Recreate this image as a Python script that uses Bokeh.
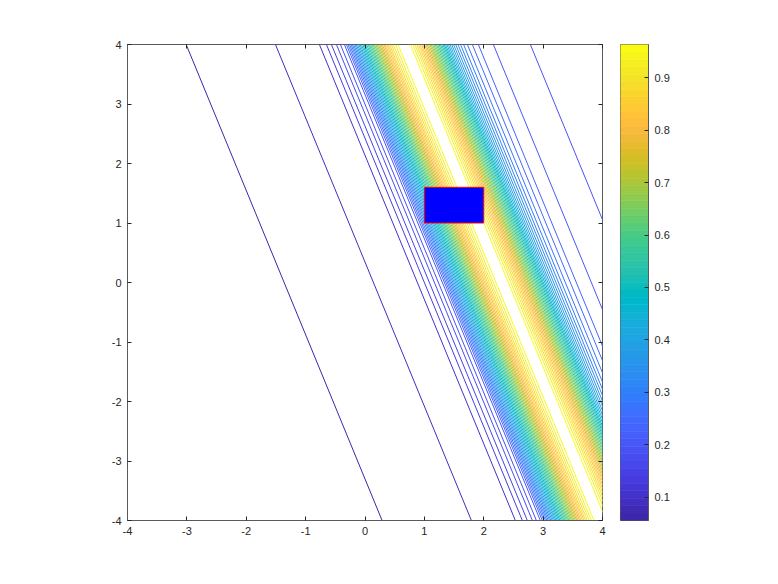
import numpy as np
from bokeh.plotting import figure
from bokeh.models import FixedTicker, LinearAxis, Range1d, ColumnDataSource
from bokeh.layouts import row
from bokeh.embed import file_html
from bokeh.resources import INLINE

# ---------------- data ----------------
# contour levels (evenly spaced)
levels = [0.07, 0.09, 0.11, 0.13, 0.15, 0.17, 0.19, 0.21, 0.23, 0.25, 0.27,
          0.29, 0.31, 0.33, 0.35, 0.37, 0.39, 0.41, 0.43, 0.45, 0.47, 0.49,
          0.51, 0.53, 0.55, 0.57, 0.59, 0.61, 0.63, 0.65, 0.67, 0.69, 0.71,
          0.73, 0.75, 0.77, 0.79, 0.81, 0.83, 0.85, 0.87, 0.89, 0.91, 0.93,
          0.95]
# x where each contour line on the left flank of the ridge meets y = 4
left_x_top = [-3.012, -1.508, -0.768, -0.650, -0.566, -0.481, -0.414, -0.347,
              -0.313, -0.286, -0.261, -0.237, -0.214, -0.192, -0.170, -0.148,
              -0.126, -0.104, -0.083, -0.061, -0.039, -0.017, 0.005, 0.027,
              0.049, 0.071, 0.093, 0.114, 0.136, 0.158, 0.180, 0.202, 0.224,
              0.246, 0.268, 0.291, 0.315, 0.338, 0.364, 0.389, 0.414, 0.444,
              0.476, 0.512, 0.556]
# levels on the right flank (0.19 .. 0.95) and where they meet y = 4
right_levels = levels[6:]
right_x_top = [2.785, 2.162, 1.909, 1.808, 1.724, 1.660, 1.609, 1.566, 1.527,
               1.492, 1.460, 1.431, 1.404, 1.379, 1.355, 1.333, 1.311, 1.290,
               1.268, 1.246, 1.224, 1.202, 1.180, 1.158, 1.136, 1.114, 1.093,
               1.071, 1.047, 1.024, 1.000, 0.976, 0.951, 0.926, 0.899, 0.870,
               0.840, 0.806, 0.764]
# contour lines are parallel: x changes by this much per unit of y
dx_per_dy = -0.4125
y_top, y_bottom = 4.0, -4.0

rect_x = [1.0, 2.0]
rect_y = [1.0, 1.6]

axis_ticks = [-4, -3, -2, -1, 0, 1, 2, 3, 4]
cbar_ticks = [0.1, 0.2, 0.3, 0.4, 0.5, 0.6, 0.7, 0.8, 0.9]
cbar_limits = [0.056, 0.963]

# ---------------- parula colormap ----------------
PARULA = [
    (0.2422, 0.1504, 0.6603), (0.2504, 0.1650, 0.7076), (0.2578, 0.1818, 0.7511),
    (0.2647, 0.1978, 0.7952), (0.2706, 0.2147, 0.8364), (0.2751, 0.2342, 0.8710),
    (0.2783, 0.2559, 0.8991), (0.2803, 0.2782, 0.9221), (0.2813, 0.3006, 0.9414),
    (0.2810, 0.3228, 0.9579), (0.2795, 0.3447, 0.9717), (0.2760, 0.3667, 0.9829),
    (0.2699, 0.3892, 0.9906), (0.2602, 0.4123, 0.9952), (0.2440, 0.4358, 0.9988),
    (0.2206, 0.4603, 0.9973), (0.1963, 0.4847, 0.9892), (0.1834, 0.5074, 0.9798),
    (0.1786, 0.5289, 0.9682), (0.1764, 0.5499, 0.9520), (0.1687, 0.5703, 0.9359),
    (0.1540, 0.5902, 0.9218), (0.1460, 0.6091, 0.9079), (0.1380, 0.6276, 0.8973),
    (0.1248, 0.6459, 0.8883), (0.1113, 0.6635, 0.8763), (0.0952, 0.6798, 0.8598),
    (0.0689, 0.6948, 0.8394), (0.0297, 0.7082, 0.8163), (0.0036, 0.7203, 0.7917),
    (0.0067, 0.7312, 0.7660), (0.0433, 0.7411, 0.7394), (0.0964, 0.7500, 0.7120),
    (0.1408, 0.7584, 0.6842), (0.1717, 0.7670, 0.6554), (0.1938, 0.7758, 0.6251),
    (0.2161, 0.7843, 0.5923), (0.2470, 0.7918, 0.5567), (0.2906, 0.7973, 0.5188),
    (0.3406, 0.8008, 0.4789), (0.3909, 0.8029, 0.4354), (0.4456, 0.8024, 0.3909),
    (0.5044, 0.7993, 0.3480), (0.5616, 0.7942, 0.3045), (0.6174, 0.7876, 0.2612),
    (0.6720, 0.7793, 0.2227), (0.7242, 0.7698, 0.1910), (0.7738, 0.7598, 0.1646),
    (0.8203, 0.7498, 0.1535), (0.8634, 0.7406, 0.1596), (0.9035, 0.7330, 0.1774),
    (0.9393, 0.7288, 0.2100), (0.9728, 0.7298, 0.2394), (0.9956, 0.7434, 0.2371),
    (0.9970, 0.7659, 0.2199), (0.9952, 0.7893, 0.2028), (0.9892, 0.8136, 0.1885),
    (0.9786, 0.8386, 0.1766), (0.9676, 0.8639, 0.1643), (0.9610, 0.8890, 0.1537),
    (0.9597, 0.9135, 0.1423), (0.9628, 0.9373, 0.1265), (0.9691, 0.9606, 0.1064),
    (0.9769, 0.9839, 0.0805),
]
PAL = ["#%02x%02x%02x" % tuple(int(round(c * 255)) for c in rgb) for rgb in PARULA]


def level_color(v):
    t = (v - cbar_limits[0]) / (cbar_limits[1] - cbar_limits[0])
    i = int(np.clip(np.floor(t * len(PAL)), 0, len(PAL) - 1))
    return PAL[i]


TXT = "#262626"
FONT = "Liberation Sans"
AX = "#5a5a5a"

# ---------------- main contour axes ----------------
p = figure(width=620, height=576, x_range=Range1d(-4, 4), y_range=Range1d(-4, 4),
           output_backend="svg", toolbar_location=None,
           min_border_left=127, min_border_right=18, min_border_top=44,
           min_border_bottom=56)
p.grid.visible = False
p.outline_line_color = AX
p.background_fill_color = "white"
p.border_fill_color = "white"

span = y_bottom - y_top
xs, ys, cols = [], [], []
for lv, xt in zip(levels, left_x_top):
    xs.append([xt, xt + dx_per_dy * span])
    ys.append([y_top, y_bottom])
    cols.append(level_color(lv))
for lv, xt in zip(right_levels, right_x_top):
    xs.append([xt, xt + dx_per_dy * span])
    ys.append([y_top, y_bottom])
    cols.append(level_color(lv))
p.multi_line(xs="xs", ys="ys", line_color="c", line_width=1,
             source=ColumnDataSource(dict(xs=xs, ys=ys, c=cols)))

p.quad(left=[rect_x[0]], right=[rect_x[1]], bottom=[rect_y[0]], top=[rect_y[1]],
       fill_color="#0000ff", line_color="#ff0000", line_width=1)

tick_text = {t: str(t) for t in axis_ticks}
for ax in (p.xaxis[0], p.yaxis[0]):
    ax.ticker = FixedTicker(ticks=axis_ticks)
    ax.major_label_overrides = tick_text
    ax.major_tick_in = 4
    ax.major_tick_out = 0
    ax.minor_tick_line_color = None
    ax.axis_line_color = AX
    ax.major_tick_line_color = TXT
    ax.major_label_text_color = TXT
    ax.major_label_text_font = FONT
    ax.major_label_text_font_size = "11px"
    ax.major_label_standoff = 6

for loc in ("above", "right"):
    ax = LinearAxis(ticker=FixedTicker(ticks=axis_ticks), major_tick_in=4,
                    major_tick_out=0, minor_tick_line_color=None,
                    axis_line_color=None, major_tick_line_color=TXT,
                    major_label_text_color=None, major_label_standoff=0)
    p.add_layout(ax, loc)

# ---------------- colour bar ----------------
cb = figure(width=130, height=576, x_range=Range1d(0, 1),
            y_range=Range1d(cbar_limits[0], cbar_limits[1]),
            output_backend="svg", toolbar_location=None,
            min_border_left=0, min_border_right=102, min_border_top=44,
            min_border_bottom=56, x_axis_location=None, y_axis_location="right")
cb.grid.visible = False
cb.outline_line_color = AX
n = len(PAL)
edges = np.linspace(cbar_limits[0], cbar_limits[1], n + 1)
cb.quad(left=0, right=1, bottom=edges[:-1], top=edges[1:], fill_color=PAL,
        line_color=PAL, line_width=0.6)
cax = cb.yaxis[0]
cax.ticker = FixedTicker(ticks=cbar_ticks)
cax.major_tick_in = 4
cax.major_tick_out = 0
cax.minor_tick_line_color = None
cax.axis_line_color = AX
cax.major_tick_line_color = TXT
cax.major_label_text_color = TXT
cax.major_label_text_font = FONT
cax.major_label_text_font_size = "11px"
cax.major_label_standoff = 6

layout = row(p, cb)
open("out.html", "w").write(file_html(layout, INLINE))
